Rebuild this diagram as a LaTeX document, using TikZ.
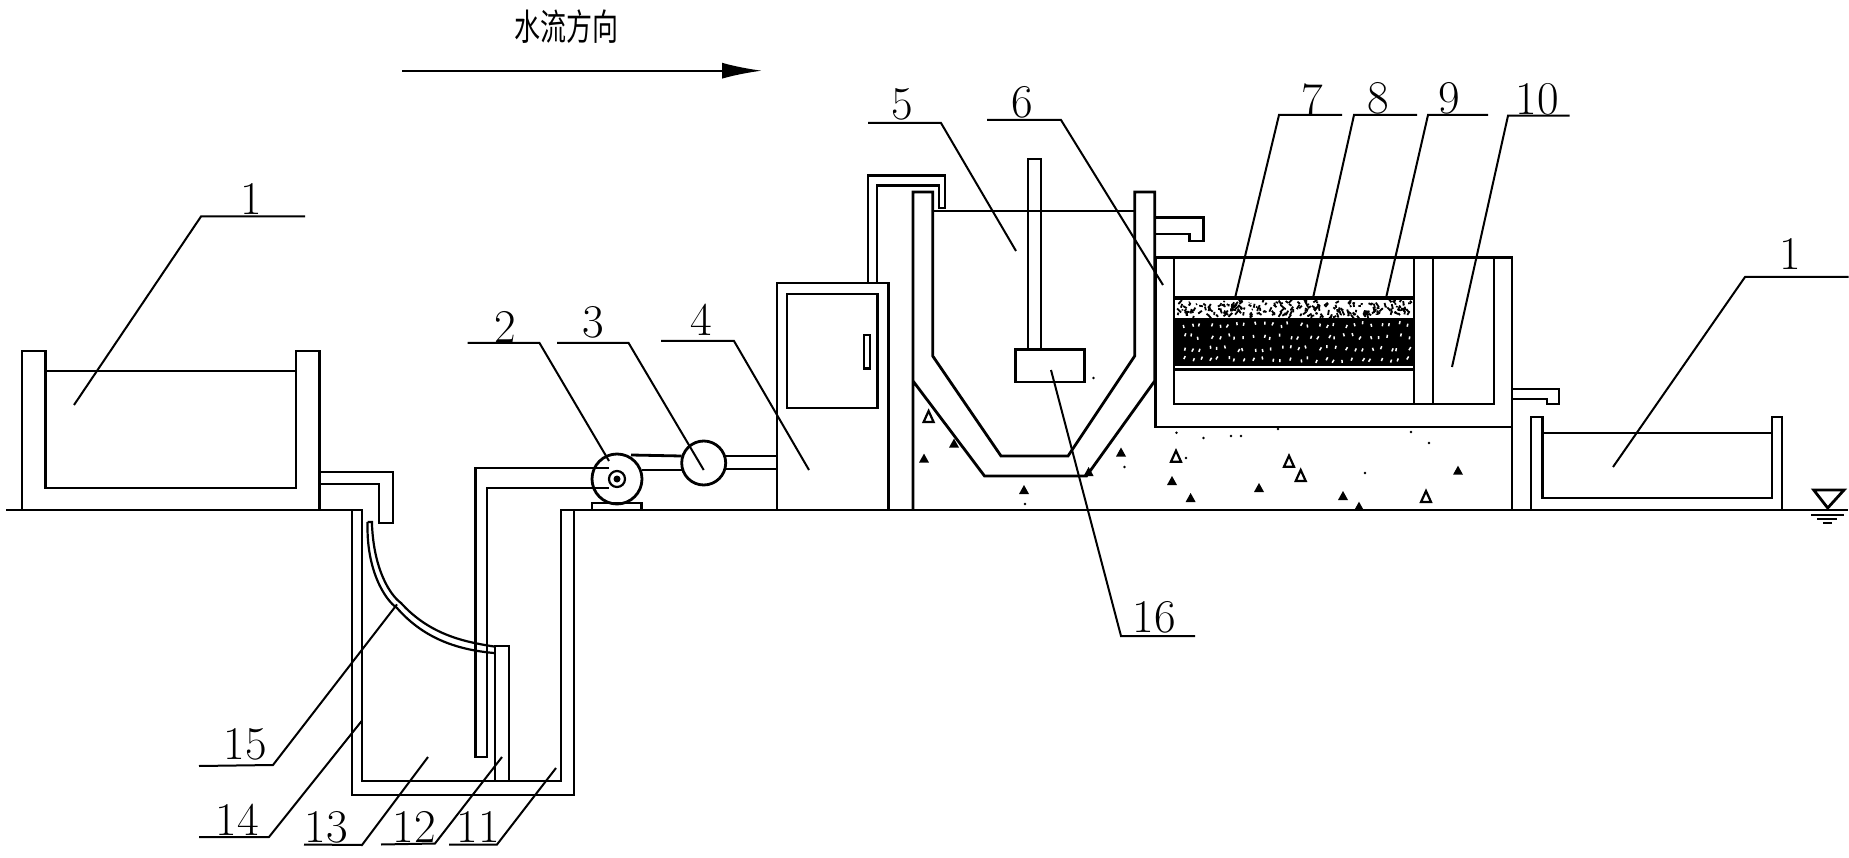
\documentclass[tikz,border=0pt]{standalone}
\usepackage{fontspec}
\newfontfamily\cjkfont{Noto Sans CJK SC}
\usetikzlibrary{arrows.meta}

\begin{document}
\begin{tikzpicture}[x=1pt,y=-1pt]
\tikzstyle{every node}=[font=\fontsize{47}{47}\selectfont,inner sep=0pt]
\tikzstyle{wall}=[line width=2.8pt,line join=miter]
\tikzstyle{thinwall}=[line width=2.2pt]
\tikzstyle{leader}=[line width=2pt]
\useasboundingbox (0,0) rectangle (1849,858);

% direction of flow
\node[font=\cjkfont\fontsize{26}{26}\selectfont] (flowtext) at (566,27) {\scalebox{1}[1.4]{水流方向}};
\draw[line width=2pt,-{Latex[length=40pt,width=16pt]}] (402,70.7) -- (762,70.7);

% ground and pit
\draw [wall] (6,510)--(362,510)--(362,781)--(561,781)--(561,510)--(1848,510);
\draw [wall] (352,510)--(352,795)--(574,795)--(574,510);
\draw [wall] (495,781)--(495,646)--(509,646)--(509,781);

% left tank
\draw [wall] (22,510)--(22,351)--(45.5,351)--(45.5,488)--(296,488)--(296,351)--(319.5,351)--(319.5,510);
\draw [thinwall] (45.5,371)--(296,371);
\draw [wall] (319.5,472)--(393,472)--(393,523)--(379,523)--(379,484)--(319.5,484);

% curved pipe
\draw [thinwall] (367.6,522)..controls (366,570) and (385,600) .. (397,608) .. controls (425,640) and (460,650) .. (494,653);
\draw [thinwall] (367.6,522)--(372,522)--(372,525) .. controls (374,570) and (390,595) .. (401,603) .. controls (430,635) and (465,642) .. (494,646.5);

% pipe, pump, flow meter
\draw [wall] (609,468)--(475.5,468)--(475.5,757)--(487,757)--(487,488)--(609,488);
\draw [wall] (617,479) circle[radius=25];
\draw [thinwall] (617,479) circle[radius=8];
\fill (617,479) circle[radius=3.5];
\draw [wall] (592,510)--(592,503)--(641.6,503)--(641.6,510);
\draw [wall] (631,455)--(681.6,456);
\draw [wall] (641.6,470)--(681.6,470);
\draw [wall] (703.7,463) circle[radius=22];
\draw [wall] (725,456)--(777,456);
\draw [wall] (725,469)--(777,469);

% control box
\draw [wall] (777,510)--(777,283)--(888.6,283)--(888.6,510);
\draw [wall] (787,294) rectangle (877.5,408);
\draw [wall] (864,335) rectangle (870,368.6);
\draw [wall] (868,283)--(868,175.7)--(945,175.7)--(945,208)--(939,208)--(939,185.7)--(877,185.7)--(877,283);

% settling tank
\draw [wall] (913,510)--(913,192)--(932.7,192)--(932.7,356)--(1001,456)--(1068,456)--(1134.7,356)--(1134.7,192)--(1154.7,192)--(1154.7,381)--(1086.5,476)--(984.5,476)--(913,381);
\draw [thinwall] (932.7,210.7)--(1134.7,210.7);
\draw [wall] (1028,349.6)--(1028,159)--(1041,159)--(1041,349.6);
\draw [wall] (1015.5,349.6) rectangle (1084.5,382);

% filter tank
\draw [wall] (1155.6,257.7)--(1512,257.7)--(1512,510);
\draw [wall] (1155.6,257.7)--(1155.6,427)--(1512,427);
\draw [wall] (1174,257.7)--(1174,404)--(1494,404)--(1494,257.7);
\draw [thinwall] (1413.7,257.7)--(1413.7,404);
\draw [thinwall] (1433,257.7)--(1433,404);
\draw [wall] (1155.6,217.7)--(1203.5,217.7)--(1203.5,241)--(1189.5,241)--(1189.5,234)--(1155.6,234);
\draw [wall] (1512,389)--(1559,389)--(1559,404)--(1547,404)--(1547,399)--(1512,399);

% filter layers
\fill (1174,296) rectangle (1414.6,300);
\fill (1174,318) rectangle (1414.6,366);
\draw [wall] (1174,369.5)--(1414.6,369.5);
\pgfmathsetseed{17}
\foreach \i in {1,...,230} {
  \pgfmathsetmacro{\px}{1177+rnd*235}
  \pgfmathsetmacro{\py}{302+rnd*14}
  \pgfmathsetmacro{\dx}{-4+rnd*8}
  \pgfmathsetmacro{\dy}{-5+rnd*10}
  \draw[line width=1.8pt] (\px,\py)--++(\dx,\dy);
}
\foreach \rowy in {326,338,350,361} {
  \foreach \i in {1,...,26} {
    \pgfmathsetmacro{\px}{1170+\i*9+rnd*6}
    \pgfmathsetmacro{\py}{\rowy+rnd*4-2}
    \pgfmathsetmacro{\dx}{-1+rnd*3}
    \draw[white,line width=1.5pt] (\px,\py)--++(\dx,-3);
  }
}

% right tank
\draw [wall] (1531,510)--(1531,417)--(1542.6,417)--(1542.6,498)--(1772,498)--(1772,417)--(1782,417)--(1782,510);
\draw [thinwall] (1542.6,433)--(1772,433);

% water level mark
\draw [wall] (1813.7,490)--(1844,490)--(1827.7,508)--cycle;
\draw [thinwall] (1811,515)--(1844,515);
\draw [thinwall] (1817,519)--(1837,519);
\draw [thinwall] (1823,523)--(1832,523);

% aggregate in the concrete
\foreach \x/\y in {954/443.6,924/458.6,1024/490,1088.6/472,1121/452.5,1172/481,1190.6/498,1259/488,1343/496,1458/470.7,1359/506.7}
  \fill (\x,\y-5)--(\x+5,\y+4)--(\x-5,\y+4)--cycle;
\foreach \x/\y in {928.6/417,1176/456.7,1289/461.7,1300.7/476,1426/497}
  \draw[thinwall] (\x,\y-6)--(\x+5,\y+5)--(\x-5,\y+5)--cycle;
\foreach \x/\y in {1025/504,1093.5/378,1124.5/467,1176.5/432.7,1203.5/438,1231/436,1241/436,1278/429,1411/432,1429/443,1365/473,1186/458}
  \fill (\x,\y) circle[radius=1.4];

% labels
\node (lab1a) at (251,199) {1};
\node (lab1b) at (1790,254) {1};
\node (lab2) at (505,327) {2};
\node (lab3) at (593.5,322) {3};
\node (lab4) at (701.6,320) {4};
\node (lab5) at (902,104) {5};
\node (lab6) at (1022.5,102.5) {6};
\node (lab7) at (1312,100) {7};
\node (lab8) at (1378,98) {8};
\node (lab9) at (1449,98) {9};
\node (lab10) at (1537,99) {10};
\node (lab11) at (478,827) {11};
\node (lab12) at (414,827) {12};
\node (lab13) at (326,827) {13};
\node (lab14) at (237,820) {14};
\node (lab15) at (245,744) {15};
\node (lab16) at (1154,617) {16};

% leader lines
\draw [leader] (305,216.5)--(201,216.5)--(74,405);
\draw [leader] (1848.6,277)--(1745,277)--(1613,467);
\draw [leader] (467.6,343)--(539.5,343)--(609,461);
\draw [leader] (557,343)--(628.6,343)--(703.7,470);
\draw [leader] (661,341)--(734,341)--(809,470);
\draw [leader] (868,123)--(941,123)--(1016,251);
\draw [leader] (987,120)--(1061,120)--(1163,285);
\draw [leader] (1342,115)--(1279,115)--(1235,298);
\draw [leader] (1417,115)--(1354,115)--(1313,298);
\draw [leader] (1488,115)--(1428,115)--(1386,298);
\draw [leader] (1569.5,115.7)--(1508,115.7)--(1452,367);
\draw [leader] (449,844.5)--(497,844.5)--(556,768);
\draw [leader] (381,844.5)--(435,843.5)--(502,757);
\draw [leader] (304,844.5)--(362,845)--(428,757);
\draw [leader] (199,837)--(269,837)--(362,720.6);
\draw [leader] (199,766)--(273,765)--(397,604.4);
\draw [leader] (1051,370)--(1121,636)--(1195,636);

\end{tikzpicture}
\end{document}
